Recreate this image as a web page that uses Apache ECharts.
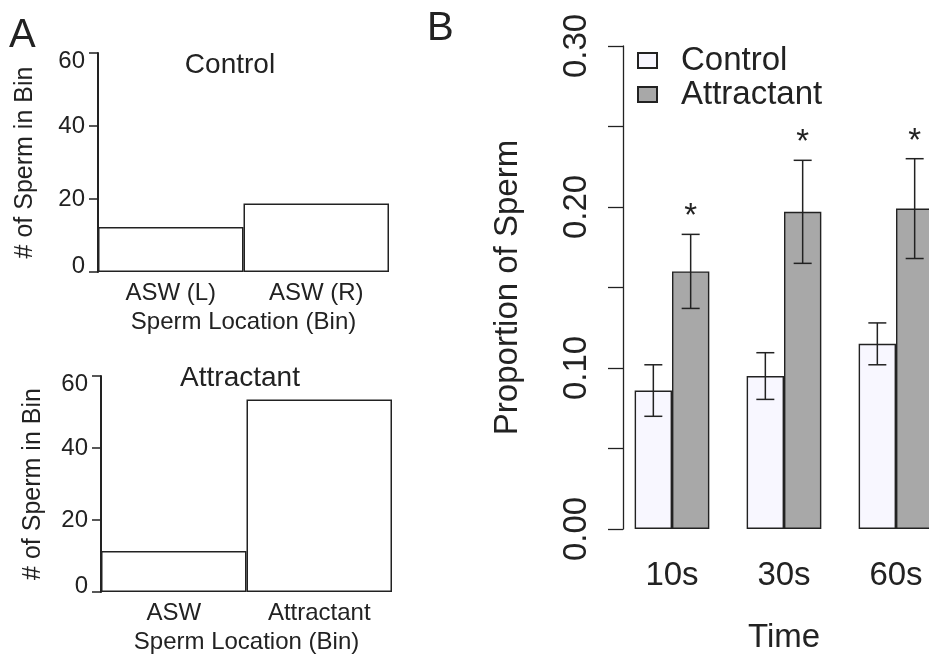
<!DOCTYPE html>
<html>
<head>
<meta charset="utf-8">
<script src="https://cdn.jsdelivr.net/npm/echarts@6/dist/echarts.min.js"></script>
<style>
  html, body { margin: 0; background: #fff; overflow: hidden; }
  /* the last bar group runs off the right edge in the original figure */
  #c { width: 960px; height: 654px; }
</style>
</head>
<body>
<div id="c"></div>
<script>
const FONT = '"Liberation Sans", Arial, Helvetica, sans-serif';
const INK = '#222';

// Panel A: sperm counts per bin
const ctrlBins = ['ASW (L)', 'ASW (R)'];
const ctrlCounts = [12.3, 18.8];
const attrBins = ['ASW', 'Attractant'];
const attrCounts = [11.4, 53.5];
const countTicks = [0, 20, 40, 60];

// Panel B: proportion of sperm over time (mean +/- error)
const times = ['10s', '30s', '60s'];
const ctrlProp = [0.086, 0.095, 0.115];
const ctrlErr = [0.016, 0.0145, 0.013];
const attrProp = [0.160, 0.197, 0.199];
const attrErr = [0.023, 0.032, 0.031];
const attrSig = ['*', '*', '*'];
const propTicks = ['0.00', '0.10', '0.20', '0.30'];

const cMin = countTicks[0];
const cMax = countTicks[countTicks.length - 1];

function countYAxis(gridIndex, nameGap) {
  const lbl = { fontSize: 24, color: INK, fontFamily: FONT };
  return {
    type: 'value', gridIndex,
    min: cMin, max: cMax, interval: countTicks[1] - countTicks[0],
    axisLine: { show: true, lineStyle: { color: INK, width: 2 } },
    axisTick: { show: true, length: 9, lineStyle: { color: INK, width: 1.5 } },
    splitLine: { show: false },
    axisLabel: {
      ...lbl, margin: 13,
      // R keeps the end labels inside the axis span
      formatter: (v) => (v === cMax ? '{hi|' + v + '}' : v === cMin ? '{lo|' + v + '}' : String(v)),
      rich: { hi: { ...lbl, padding: [16, 0, 0, 0] }, lo: { ...lbl, padding: [0, 0, 12, 0] } },
    },
    name: '# of Sperm in Bin', nameLocation: 'middle', nameRotate: 90, nameGap,
    nameTextStyle: { fontSize: 25, color: INK, fontFamily: FONT },
  };
}

function binXAxis(gridIndex, bins) {
  return {
    type: 'category', gridIndex, data: bins,
    axisLine: { show: false }, axisTick: { show: false },
    axisLabel: { fontSize: 24, color: INK, fontFamily: FONT, margin: 9 },
    name: 'Sperm Location (Bin)', nameLocation: 'middle', nameGap: 38,
    nameTextStyle: { fontSize: 24, color: INK, fontFamily: FONT },
  };
}

function countBars(idx, values) {
  return {
    type: 'bar', xAxisIndex: idx, yAxisIndex: idx, data: values,
    barWidth: '100%', silent: true,
    itemStyle: { color: '#fff', borderColor: INK, borderWidth: 1.5 },
  };
}

const chart = echarts.init(document.getElementById('c'), null, { renderer: 'canvas' });

chart.setOption({
  animation: false,
  backgroundColor: '#fff',
  textStyle: { fontFamily: FONT },
  grid: [
    { left: 98, top: 53, width: 291, height: 219, outerBoundsMode: 'none' },
    { left: 101, top: 376, width: 291, height: 216, outerBoundsMode: 'none' },
    { left: 616, top: 46, width: 336, height: 483, outerBoundsMode: 'none' },
  ],
  legend: {
    data: ['Control', 'Attractant'],
    orient: 'vertical', left: 632, top: 39,
    itemWidth: 19, itemHeight: 15, itemGap: 1, icon: 'rect',
    textStyle: { fontSize: 33, color: INK, fontFamily: FONT, padding: [0, 0, 0, 19] },
  },
  graphic: [
    { type: 'text', x: 9, y: 36, style: { text: 'A', fontSize: 40, fontFamily: FONT, fill: INK, verticalAlign: 'middle' } },
    { type: 'text', x: 427, y: 29, style: { text: 'B', fontSize: 40, fontFamily: FONT, fill: INK, verticalAlign: 'middle' } },
    { type: 'text', x: 230, y: 65, style: { text: 'Control', fontSize: 28, fontFamily: FONT, fill: INK, align: 'center', verticalAlign: 'middle' } },
    { type: 'text', x: 240, y: 378, style: { text: 'Attractant', fontSize: 28, fontFamily: FONT, fill: INK, align: 'center', verticalAlign: 'middle' } },
  ],
  xAxis: [
    binXAxis(0, ctrlBins),
    binXAxis(1, attrBins),
    {
      type: 'category', gridIndex: 2, data: times,
      axisLine: { show: false }, axisTick: { show: false },
      axisLabel: { fontSize: 33, color: INK, fontFamily: FONT, margin: 30 },
      name: 'Time', nameLocation: 'middle', nameGap: 92,
      nameTextStyle: { fontSize: 33, color: INK, fontFamily: FONT },
    },
  ],
  yAxis: [
    countYAxis(0, 60),
    countYAxis(1, 55),
    {
      type: 'value', gridIndex: 2, min: 0, max: 0.3, interval: 0.05, offset: -7,
      axisLine: { show: true, lineStyle: { color: INK, width: 1.3 } },
      axisTick: { show: true, length: 15, lineStyle: { color: INK, width: 1.3 } },
      splitLine: { show: false },
      axisLabel: {
        fontSize: 33, color: INK, fontFamily: FONT, rotate: 90, margin: 30,
        formatter: (v) => { const s = v.toFixed(2); return propTicks.includes(s) ? s : ''; },
      },
      name: 'Proportion of Sperm', nameLocation: 'middle', nameRotate: 90, nameGap: 99,
      nameTextStyle: { fontSize: 33, color: INK, fontFamily: FONT },
    },
  ],
  series: [
    countBars(0, ctrlCounts),
    countBars(1, attrCounts),
    {
      name: 'Control', type: 'bar', xAxisIndex: 2, yAxisIndex: 2, data: ctrlProp,
      barGap: '0%', barCategoryGap: '33.33%', silent: true,
      itemStyle: { color: '#F8F7FF', borderColor: INK, borderWidth: 1.4 },
    },
    {
      name: 'Attractant', type: 'bar', xAxisIndex: 2, yAxisIndex: 2, data: attrProp,
      barGap: '0%', barCategoryGap: '33.33%', silent: true,
      itemStyle: { color: '#A8A8A8', borderColor: INK, borderWidth: 1.4 },
    },
    {
      type: 'custom', xAxisIndex: 2, yAxisIndex: 2, silent: true, z: 5,
      data: times.map((t, i) => [i, ctrlProp[i], ctrlErr[i], attrProp[i], attrErr[i]]),
      renderItem(params, api) {
        const i = api.value(0);
        const off = api.size([1, 0])[0] / 6;
        const stroke = { stroke: INK, lineWidth: 1.5 };
        const kids = [];
        [[api.value(1), api.value(2), -off], [api.value(3), api.value(4), off]].forEach(([m, e, dx], k) => {
          const hi = api.coord([i, m + e]);
          const lo = api.coord([i, m - e]);
          const x = hi[0] + dx;
          kids.push(
            { type: 'line', shape: { x1: x, y1: hi[1], x2: x, y2: lo[1] }, style: stroke },
            { type: 'line', shape: { x1: x - 9, y1: hi[1], x2: x + 9, y2: hi[1] }, style: stroke },
            { type: 'line', shape: { x1: x - 9, y1: lo[1], x2: x + 9, y2: lo[1] }, style: stroke }
          );
          if (k === 1 && attrSig[i]) {
            kids.push({
              type: 'text', x, y: hi[1] - 17,
              style: { text: attrSig[i], fontSize: 33, fontFamily: FONT, fill: INK, align: 'center', verticalAlign: 'middle' },
            });
          }
        });
        return { type: 'group', children: kids };
      },
    },
  ],
});
</script>
</body>
</html>
